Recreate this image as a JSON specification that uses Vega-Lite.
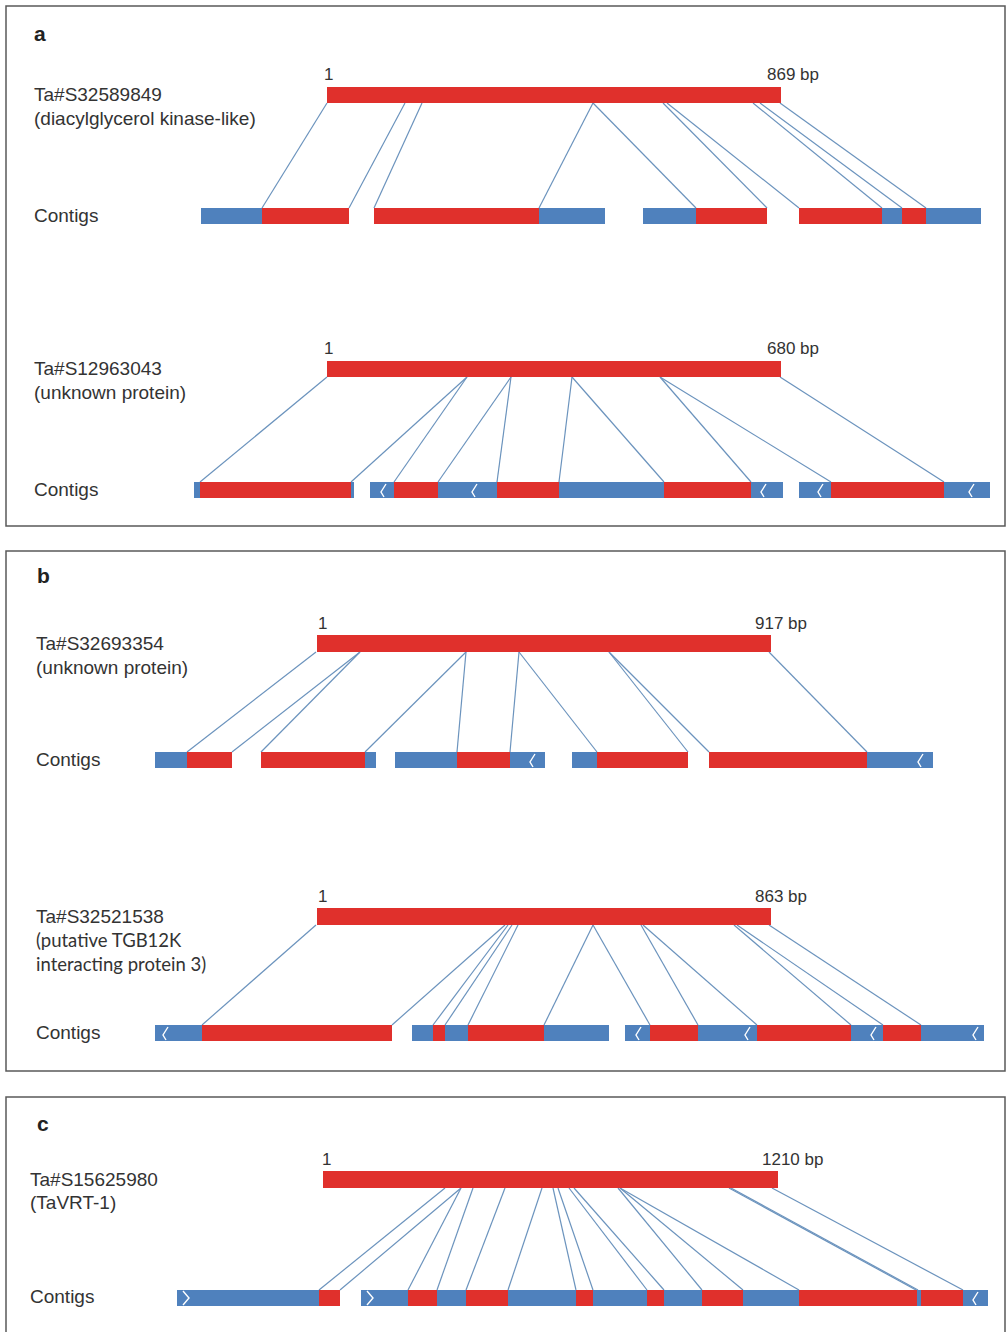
{
  "$schema": "https://vega.github.io/schema/vega-lite/v6.json",
  "width": 1006,
  "height": 1332,
  "autosize": {"type": "none"},
  "padding": 0,
  "background": "white",
  "config": {"view": {"stroke": null}},
  "datasets": {
    "boxes": [
      {"x": 6, "x2": 1005, "y": 6, "y2": 526},
      {"x": 6, "x2": 1005, "y": 551, "y2": 1071},
      {"x": 6, "x2": 1005, "y": 1097, "y2": 1340}
    ],
    "segs": [
      {"x": 327, "x2": 781, "y": 87, "y2": 103, "kind": "match"},
      {"x": 201, "x2": 262, "y": 208, "y2": 224, "kind": "flank"},
      {"x": 262, "x2": 349, "y": 208, "y2": 224, "kind": "match"},
      {"x": 374, "x2": 539, "y": 208, "y2": 224, "kind": "match"},
      {"x": 539, "x2": 605, "y": 208, "y2": 224, "kind": "flank"},
      {"x": 643, "x2": 696, "y": 208, "y2": 224, "kind": "flank"},
      {"x": 696, "x2": 767, "y": 208, "y2": 224, "kind": "match"},
      {"x": 799, "x2": 882, "y": 208, "y2": 224, "kind": "match"},
      {"x": 882, "x2": 902, "y": 208, "y2": 224, "kind": "flank"},
      {"x": 902, "x2": 926, "y": 208, "y2": 224, "kind": "match"},
      {"x": 926, "x2": 981, "y": 208, "y2": 224, "kind": "flank"},

      {"x": 327, "x2": 781, "y": 361, "y2": 377, "kind": "match"},
      {"x": 194, "x2": 200, "y": 482, "y2": 498, "kind": "flank"},
      {"x": 200, "x2": 351, "y": 482, "y2": 498, "kind": "match"},
      {"x": 351, "x2": 354, "y": 482, "y2": 498, "kind": "flank"},
      {"x": 370, "x2": 394, "y": 482, "y2": 498, "kind": "flank"},
      {"x": 394, "x2": 438, "y": 482, "y2": 498, "kind": "match"},
      {"x": 438, "x2": 497, "y": 482, "y2": 498, "kind": "flank"},
      {"x": 497, "x2": 559, "y": 482, "y2": 498, "kind": "match"},
      {"x": 559, "x2": 664, "y": 482, "y2": 498, "kind": "flank"},
      {"x": 664, "x2": 751, "y": 482, "y2": 498, "kind": "match"},
      {"x": 751, "x2": 783, "y": 482, "y2": 498, "kind": "flank"},
      {"x": 799, "x2": 831, "y": 482, "y2": 498, "kind": "flank"},
      {"x": 831, "x2": 944, "y": 482, "y2": 498, "kind": "match"},
      {"x": 944, "x2": 990, "y": 482, "y2": 498, "kind": "flank"},

      {"x": 317, "x2": 771, "y": 635, "y2": 652, "kind": "match"},
      {"x": 155, "x2": 187, "y": 752, "y2": 768, "kind": "flank"},
      {"x": 187, "x2": 232, "y": 752, "y2": 768, "kind": "match"},
      {"x": 261, "x2": 365, "y": 752, "y2": 768, "kind": "match"},
      {"x": 365, "x2": 376, "y": 752, "y2": 768, "kind": "flank"},
      {"x": 395, "x2": 457, "y": 752, "y2": 768, "kind": "flank"},
      {"x": 457, "x2": 510, "y": 752, "y2": 768, "kind": "match"},
      {"x": 510, "x2": 545, "y": 752, "y2": 768, "kind": "flank"},
      {"x": 572, "x2": 597, "y": 752, "y2": 768, "kind": "flank"},
      {"x": 597, "x2": 688, "y": 752, "y2": 768, "kind": "match"},
      {"x": 709, "x2": 867, "y": 752, "y2": 768, "kind": "match"},
      {"x": 867, "x2": 933, "y": 752, "y2": 768, "kind": "flank"},

      {"x": 317, "x2": 771, "y": 908, "y2": 925, "kind": "match"},
      {"x": 155, "x2": 202, "y": 1025, "y2": 1041, "kind": "flank"},
      {"x": 202, "x2": 392, "y": 1025, "y2": 1041, "kind": "match"},
      {"x": 412, "x2": 433, "y": 1025, "y2": 1041, "kind": "flank"},
      {"x": 433, "x2": 445, "y": 1025, "y2": 1041, "kind": "match"},
      {"x": 445, "x2": 468, "y": 1025, "y2": 1041, "kind": "flank"},
      {"x": 468, "x2": 544, "y": 1025, "y2": 1041, "kind": "match"},
      {"x": 544, "x2": 609, "y": 1025, "y2": 1041, "kind": "flank"},
      {"x": 625, "x2": 650, "y": 1025, "y2": 1041, "kind": "flank"},
      {"x": 650, "x2": 698, "y": 1025, "y2": 1041, "kind": "match"},
      {"x": 698, "x2": 757, "y": 1025, "y2": 1041, "kind": "flank"},
      {"x": 757, "x2": 851, "y": 1025, "y2": 1041, "kind": "match"},
      {"x": 851, "x2": 883, "y": 1025, "y2": 1041, "kind": "flank"},
      {"x": 883, "x2": 921, "y": 1025, "y2": 1041, "kind": "match"},
      {"x": 921, "x2": 984, "y": 1025, "y2": 1041, "kind": "flank"},

      {"x": 323, "x2": 778, "y": 1171, "y2": 1188, "kind": "match"},
      {"x": 177, "x2": 319, "y": 1290, "y2": 1306, "kind": "flank"},
      {"x": 319, "x2": 340, "y": 1290, "y2": 1306, "kind": "match"},
      {"x": 361, "x2": 408, "y": 1290, "y2": 1306, "kind": "flank"},
      {"x": 408, "x2": 437, "y": 1290, "y2": 1306, "kind": "match"},
      {"x": 437, "x2": 466, "y": 1290, "y2": 1306, "kind": "flank"},
      {"x": 466, "x2": 508, "y": 1290, "y2": 1306, "kind": "match"},
      {"x": 508, "x2": 576, "y": 1290, "y2": 1306, "kind": "flank"},
      {"x": 576, "x2": 593, "y": 1290, "y2": 1306, "kind": "match"},
      {"x": 593, "x2": 647, "y": 1290, "y2": 1306, "kind": "flank"},
      {"x": 647, "x2": 664, "y": 1290, "y2": 1306, "kind": "match"},
      {"x": 664, "x2": 702, "y": 1290, "y2": 1306, "kind": "flank"},
      {"x": 702, "x2": 743, "y": 1290, "y2": 1306, "kind": "match"},
      {"x": 743, "x2": 799, "y": 1290, "y2": 1306, "kind": "flank"},
      {"x": 799, "x2": 917, "y": 1290, "y2": 1306, "kind": "match"},
      {"x": 917, "x2": 921, "y": 1290, "y2": 1306, "kind": "flank"},
      {"x": 921, "x2": 963, "y": 1290, "y2": 1306, "kind": "match"},
      {"x": 963, "x2": 988, "y": 1290, "y2": 1306, "kind": "flank"}
    ],
    "links": [
      {"x": 327, "y": 103, "x2": 262, "y2": 208},
      {"x": 405, "y": 103, "x2": 349, "y2": 208},
      {"x": 422, "y": 103, "x2": 374, "y2": 208},
      {"x": 593, "y": 103, "x2": 539, "y2": 208},
      {"x": 593, "y": 103, "x2": 696, "y2": 208},
      {"x": 663, "y": 103, "x2": 767, "y2": 208},
      {"x": 667, "y": 103, "x2": 799, "y2": 208},
      {"x": 753, "y": 103, "x2": 882, "y2": 208},
      {"x": 760, "y": 103, "x2": 902, "y2": 208},
      {"x": 780, "y": 103, "x2": 926, "y2": 208},

      {"x": 327, "y": 377, "x2": 200, "y2": 482},
      {"x": 467, "y": 377, "x2": 351, "y2": 482},
      {"x": 467, "y": 377, "x2": 394, "y2": 482},
      {"x": 511, "y": 377, "x2": 438, "y2": 482},
      {"x": 511, "y": 377, "x2": 497, "y2": 482},
      {"x": 572, "y": 377, "x2": 559, "y2": 482},
      {"x": 572, "y": 377, "x2": 664, "y2": 482},
      {"x": 660, "y": 377, "x2": 751, "y2": 482},
      {"x": 660, "y": 377, "x2": 831, "y2": 482},
      {"x": 780, "y": 377, "x2": 944, "y2": 482},

      {"x": 316, "y": 652, "x2": 187, "y2": 752},
      {"x": 360, "y": 652, "x2": 232, "y2": 752},
      {"x": 360, "y": 652, "x2": 261, "y2": 752},
      {"x": 466, "y": 652, "x2": 365, "y2": 752},
      {"x": 466, "y": 652, "x2": 457, "y2": 752},
      {"x": 519, "y": 652, "x2": 510, "y2": 752},
      {"x": 519, "y": 652, "x2": 597, "y2": 752},
      {"x": 609, "y": 652, "x2": 688, "y2": 752},
      {"x": 609, "y": 652, "x2": 709, "y2": 752},
      {"x": 769, "y": 652, "x2": 867, "y2": 752},

      {"x": 316, "y": 925, "x2": 202, "y2": 1025},
      {"x": 505, "y": 925, "x2": 392, "y2": 1025},
      {"x": 508, "y": 925, "x2": 433, "y2": 1025},
      {"x": 512, "y": 925, "x2": 445, "y2": 1025},
      {"x": 518, "y": 925, "x2": 468, "y2": 1025},
      {"x": 593, "y": 925, "x2": 544, "y2": 1025},
      {"x": 593, "y": 925, "x2": 650, "y2": 1025},
      {"x": 641, "y": 925, "x2": 698, "y2": 1025},
      {"x": 643, "y": 925, "x2": 757, "y2": 1025},
      {"x": 734, "y": 925, "x2": 851, "y2": 1025},
      {"x": 737, "y": 925, "x2": 883, "y2": 1025},
      {"x": 769, "y": 925, "x2": 921, "y2": 1025},

      {"x": 445, "y": 1188, "x2": 319, "y2": 1290},
      {"x": 461, "y": 1188, "x2": 340, "y2": 1290},
      {"x": 461, "y": 1188, "x2": 408, "y2": 1290},
      {"x": 473, "y": 1188, "x2": 437, "y2": 1290},
      {"x": 505, "y": 1188, "x2": 466, "y2": 1290},
      {"x": 542, "y": 1188, "x2": 508, "y2": 1290},
      {"x": 553, "y": 1188, "x2": 576, "y2": 1290},
      {"x": 558, "y": 1188, "x2": 593, "y2": 1290},
      {"x": 569, "y": 1188, "x2": 647, "y2": 1290},
      {"x": 574, "y": 1188, "x2": 664, "y2": 1290},
      {"x": 618, "y": 1188, "x2": 702, "y2": 1290},
      {"x": 620, "y": 1188, "x2": 743, "y2": 1290},
      {"x": 620, "y": 1188, "x2": 799, "y2": 1290},
      {"x": 729, "y": 1188, "x2": 916, "y2": 1290},
      {"x": 731, "y": 1188, "x2": 918, "y2": 1290},
      {"x": 772, "y": 1188, "x2": 963, "y2": 1290}
    ],
    "breaks": [
      {"id": "a1", "o": 1, "x": 386, "y": 484}, {"id": "a1", "o": 2, "x": 381, "y": 492}, {"id": "a1", "o": 3, "x": 384, "y": 497},
      {"id": "a2", "o": 1, "x": 477, "y": 484}, {"id": "a2", "o": 2, "x": 472, "y": 492}, {"id": "a2", "o": 3, "x": 475, "y": 497},
      {"id": "a3", "o": 1, "x": 766, "y": 484}, {"id": "a3", "o": 2, "x": 761, "y": 492}, {"id": "a3", "o": 3, "x": 764, "y": 497},
      {"id": "a4", "o": 1, "x": 823, "y": 484}, {"id": "a4", "o": 2, "x": 818, "y": 492}, {"id": "a4", "o": 3, "x": 821, "y": 497},
      {"id": "a5", "o": 1, "x": 974, "y": 484}, {"id": "a5", "o": 2, "x": 969, "y": 492}, {"id": "a5", "o": 3, "x": 972, "y": 497},
      {"id": "b1", "o": 1, "x": 535, "y": 754}, {"id": "b1", "o": 2, "x": 530, "y": 762}, {"id": "b1", "o": 3, "x": 533, "y": 767},
      {"id": "b2", "o": 1, "x": 923, "y": 754}, {"id": "b2", "o": 2, "x": 918, "y": 762}, {"id": "b2", "o": 3, "x": 921, "y": 767},
      {"id": "b3", "o": 1, "x": 168, "y": 1027}, {"id": "b3", "o": 2, "x": 163, "y": 1035}, {"id": "b3", "o": 3, "x": 166, "y": 1040},
      {"id": "b4", "o": 1, "x": 641, "y": 1027}, {"id": "b4", "o": 2, "x": 636, "y": 1035}, {"id": "b4", "o": 3, "x": 639, "y": 1040},
      {"id": "b5", "o": 1, "x": 750, "y": 1027}, {"id": "b5", "o": 2, "x": 745, "y": 1035}, {"id": "b5", "o": 3, "x": 748, "y": 1040},
      {"id": "b6", "o": 1, "x": 876, "y": 1027}, {"id": "b6", "o": 2, "x": 871, "y": 1035}, {"id": "b6", "o": 3, "x": 874, "y": 1040},
      {"id": "b7", "o": 1, "x": 978, "y": 1027}, {"id": "b7", "o": 2, "x": 973, "y": 1035}, {"id": "b7", "o": 3, "x": 976, "y": 1040},
      {"id": "c1", "o": 1, "x": 183, "y": 1291}, {"id": "c1", "o": 2, "x": 189, "y": 1298}, {"id": "c1", "o": 3, "x": 183, "y": 1305},
      {"id": "c2", "o": 1, "x": 367, "y": 1291}, {"id": "c2", "o": 2, "x": 373, "y": 1298}, {"id": "c2", "o": 3, "x": 367, "y": 1305},
      {"id": "c3", "o": 1, "x": 978, "y": 1292}, {"id": "c3", "o": 2, "x": 973, "y": 1300}, {"id": "c3", "o": 3, "x": 976, "y": 1305}
    ],
    "labels": [
      {"x": 34, "y": 35, "text": "a", "kind": "panel"},
      {"x": 37, "y": 577, "text": "b", "kind": "panel"},
      {"x": 37, "y": 1125, "text": "c", "kind": "panel"},
      {"x": 34, "y": 95, "text": "Ta#S32589849", "kind": "name"},
      {"x": 34, "y": 119, "text": "(diacylglycerol kinase-like)", "kind": "name"},
      {"x": 34, "y": 216, "text": "Contigs", "kind": "name"},
      {"x": 34, "y": 369, "text": "Ta#S12963043", "kind": "name"},
      {"x": 34, "y": 393, "text": "(unknown protein)", "kind": "name"},
      {"x": 34, "y": 490, "text": "Contigs", "kind": "name"},
      {"x": 36, "y": 644, "text": "Ta#S32693354", "kind": "name"},
      {"x": 36, "y": 668, "text": "(unknown protein)", "kind": "name"},
      {"x": 36, "y": 760, "text": "Contigs", "kind": "name"},
      {"x": 36, "y": 917, "text": "Ta#S32521538", "kind": "name"},
      {"x": 36, "y": 941, "text": "(putative TGB12K", "kind": "alt"},
      {"x": 36, "y": 965, "text": "interacting protein 3)", "kind": "alt"},
      {"x": 36, "y": 1033, "text": "Contigs", "kind": "name"},
      {"x": 30, "y": 1180, "text": "Ta#S15625980", "kind": "name"},
      {"x": 30, "y": 1203, "text": "(TaVRT-1)", "kind": "name"},
      {"x": 30, "y": 1297, "text": "Contigs", "kind": "name"},
      {"x": 324, "y": 75, "text": "1", "kind": "len"},
      {"x": 767, "y": 75, "text": "869 bp", "kind": "len"},
      {"x": 324, "y": 349, "text": "1", "kind": "len"},
      {"x": 767, "y": 349, "text": "680 bp", "kind": "len"},
      {"x": 318, "y": 624, "text": "1", "kind": "len"},
      {"x": 755, "y": 624, "text": "917 bp", "kind": "len"},
      {"x": 318, "y": 897, "text": "1", "kind": "len"},
      {"x": 755, "y": 897, "text": "863 bp", "kind": "len"},
      {"x": 322, "y": 1160, "text": "1", "kind": "len"},
      {"x": 762, "y": 1160, "text": "1210 bp", "kind": "len"}
    ]
  },
  "layer": [
    {
      "data": {"name": "boxes"},
      "mark": {"type": "rect", "fill": "transparent", "stroke": "#5a5a5a", "strokeWidth": 1.5},
      "encoding": {
        "x": {"field": "x", "type": "quantitative", "scale": {"domain": [0, 1006], "nice": false, "zero": false}, "axis": null},
        "x2": {"field": "x2"},
        "y": {"field": "y", "type": "quantitative", "scale": {"domain": [0, 1332], "nice": false, "zero": false, "reverse": true}, "axis": null},
        "y2": {"field": "y2"}
      }
    },
    {
      "data": {"name": "links"},
      "mark": {"type": "rule", "stroke": "#6b93bd", "strokeWidth": 1.2},
      "encoding": {
        "x": {"field": "x", "type": "quantitative"},
        "x2": {"field": "x2"},
        "y": {"field": "y", "type": "quantitative"},
        "y2": {"field": "y2"}
      }
    },
    {
      "data": {"name": "segs"},
      "mark": {"type": "rect"},
      "encoding": {
        "x": {"field": "x", "type": "quantitative"},
        "x2": {"field": "x2"},
        "y": {"field": "y", "type": "quantitative"},
        "y2": {"field": "y2"},
        "color": {"field": "kind", "type": "nominal", "scale": {"domain": ["match", "flank"], "range": ["#e0302c", "#4f81bd"]}, "legend": null}
      }
    },
    {
      "data": {"name": "breaks"},
      "mark": {"type": "line", "stroke": "white", "strokeWidth": 1.4},
      "encoding": {
        "x": {"field": "x", "type": "quantitative"},
        "y": {"field": "y", "type": "quantitative"},
        "detail": {"field": "id"},
        "order": {"field": "o"}
      }
    },
    {
      "data": {"name": "labels"},
      "transform": [{"filter": "datum.kind == 'panel'"}],
      "mark": {"type": "text", "align": "left", "baseline": "middle", "font": "Liberation Sans", "fontSize": 21, "fontWeight": "bold", "fill": "#222"},
      "encoding": {
        "x": {"field": "x", "type": "quantitative"},
        "y": {"field": "y", "type": "quantitative"},
        "text": {"field": "text"}
      }
    },
    {
      "data": {"name": "labels"},
      "transform": [{"filter": "datum.kind == 'name'"}],
      "mark": {"type": "text", "align": "left", "baseline": "middle", "font": "Liberation Sans", "fontSize": 19, "fill": "#333"},
      "encoding": {
        "x": {"field": "x", "type": "quantitative"},
        "y": {"field": "y", "type": "quantitative"},
        "text": {"field": "text"}
      }
    },
    {
      "data": {"name": "labels"},
      "transform": [{"filter": "datum.kind == 'alt'"}],
      "mark": {"type": "text", "align": "left", "baseline": "middle", "font": "Lato", "fontSize": 18.5, "fill": "#333"},
      "encoding": {
        "x": {"field": "x", "type": "quantitative"},
        "y": {"field": "y", "type": "quantitative"},
        "text": {"field": "text"}
      }
    },
    {
      "data": {"name": "labels"},
      "transform": [{"filter": "datum.kind == 'len'"}],
      "mark": {"type": "text", "align": "left", "baseline": "middle", "font": "Liberation Sans", "fontSize": 17, "fill": "#333"},
      "encoding": {
        "x": {"field": "x", "type": "quantitative"},
        "y": {"field": "y", "type": "quantitative"},
        "text": {"field": "text"}
      }
    }
  ]
}
